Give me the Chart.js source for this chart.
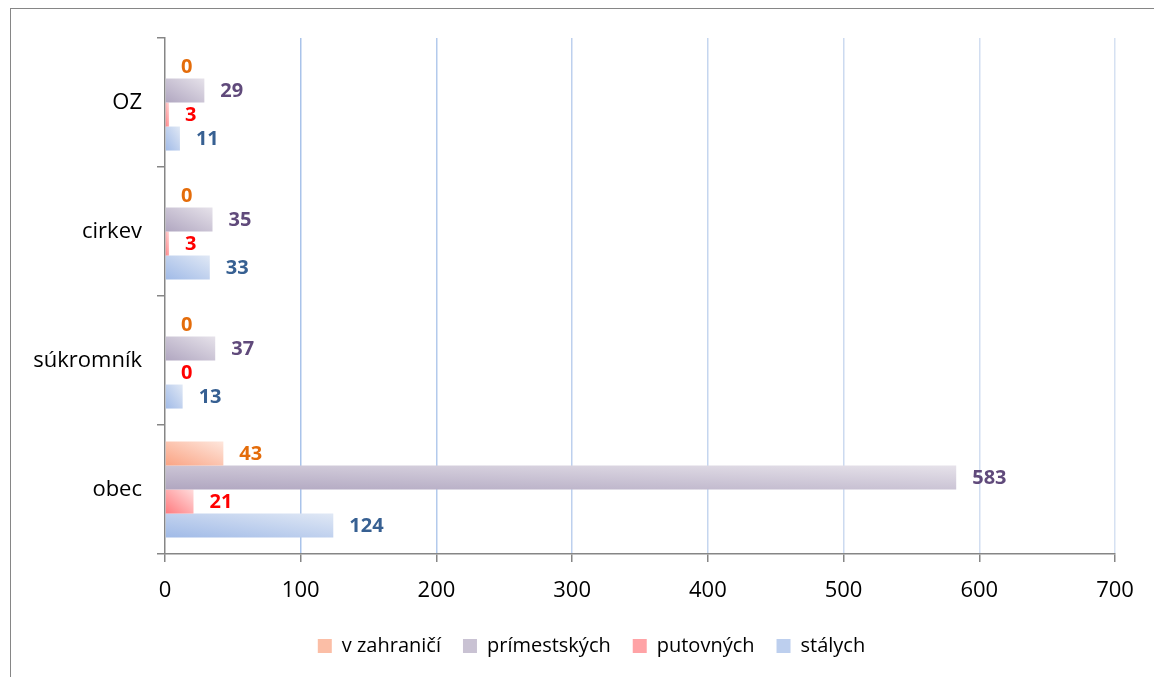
<!DOCTYPE html>
<html>
<head>
<meta charset="utf-8">
<script src="https://cdn.jsdelivr.net/npm/chart.js@4.4.0/dist/chart.umd.min.js"></script>
<style>
    html, body { margin: 0; padding: 0; background: #fff; }
    #wrap { position: relative; width: 1154px; height: 677px; overflow: hidden; }
    #frame { position: absolute; left: 10px; top: 8px; width: 1200px; height: 700px; border: 1px solid #868686; }
    canvas { position: absolute; left: 0; top: 0; }
</style>
</head>
<body>
<div id="wrap">
    <div id="frame"></div>
    <canvas id="chart" width="1154" height="677"></canvas>
</div>
<script>
const CATEGORIES = ['OZ', 'cirkev', 'súkromník', 'obec'];
const SERIES_NAMES = ['v zahraničí', 'prímestských', 'putovných', 'stálych'];

const ABROAD = [0, 0, 0, 43];
const SUBURBAN = [29, 35, 37, 583];
const TRAVELLING = [3, 3, 0, 21];
const STATIONARY = [11, 33, 13, 124];

const X_MIN = 0;
const X_MAX = 700;
const X_STEP = 100;

// dark / light ends of the bar gradients, label colours, legend swatches
const DARK = ['#FAA383', '#B0A6C0', '#FF7A7E', '#A0BAE7'];
const LIGHT = ['#FEE6DC', '#E6E2EA', '#FFDCDC', '#E0E8F5'];
const LABEL_COLORS = ['#E46C0A', '#604A7B', '#FF0000', '#376092'];
const LEGEND_COLORS = ['#FBBEA6', '#C9C2D3', '#FFA3A6', '#BDCFEE'];
// vertical gridlines fade from left to right
const GRID_COLORS = ['rgba(0,0,0,0)', '#A9C3EA', '#B3CAEC', '#BDD0EE', '#C5D6EF', '#CCDAF0', '#D2DEF1', '#D6E1F2'];

const FONT = '"Open Sans", sans-serif';
const CATEGORY_PCT = 0.745;
const LEGEND_SHIFT = 34;

Chart.defaults.font.family = FONT;
Chart.defaults.color = '#000';

/**
 * Diagonal gradient stretched to the bar shape (like the office "linear diagonal" fill).
 */
function barGradient(i) {
    return (ctx) => {
        const chart = ctx.chart;
        const { x, y } = chart.scales;
        if (ctx.type !== 'data' || !chart.chartArea || !x || !y) {
            return LEGEND_COLORS[i];
        }
        const n = chart.data.datasets.length;
        const band = (y.height / chart.data.labels.length) * CATEGORY_PCT;
        const h = band / n;
        const top = y.getPixelForValue(ctx.dataIndex) - band / 2 + ctx.datasetIndex * h;
        const x0 = x.getPixelForValue(0);
        const w = Math.max(x.getPixelForValue(ctx.raw) - x0, 1);
        const t = (2 * w * h) / (w * w + h * h);
        const g = chart.ctx.createLinearGradient(x0, top + h, x0 + t * h, top + h - t * w);
        g.addColorStop(0, DARK[i]);
        g.addColorStop(1, LIGHT[i]);
        return g;
    };
}

const valueLabels = {
    id: 'valueLabels',
    afterDatasetsDraw(chart) {
        const { ctx } = chart;
        ctx.save();
        ctx.font = 'bold 20px ' + FONT;
        ctx.textBaseline = 'middle';
        ctx.textAlign = 'left';
        chart.data.datasets.forEach((ds, i) => {
            ctx.fillStyle = LABEL_COLORS[i];
            chart.getDatasetMeta(i).data.forEach((bar, j) => {
                ctx.fillText(String(ds.data[j]), bar.x + 16, bar.y + 1);
            });
        });
        ctx.restore();
    },
};

// the legend sits centred under the plot area rather than the whole canvas
const legendShift = {
    id: 'legendShift',
    afterLayout(chart) {
        if (chart.legend) {
            chart.legend.left += LEGEND_SHIFT;
            chart.legend.right += LEGEND_SHIFT;
            chart.legend.top += 2;
            chart.legend.bottom += 2;
        }
    },
};

const seriesData = [ABROAD, SUBURBAN, TRAVELLING, STATIONARY];

const chart = new Chart(document.getElementById('chart'), {
    type: 'bar',
    data: {
        labels: CATEGORIES,
        datasets: seriesData.map((data, i) => ({
            label: SERIES_NAMES[i],
            data: data,
            backgroundColor: barGradient(i),
            borderWidth: 0,
            categoryPercentage: CATEGORY_PCT,
            barPercentage: 1,
        })),
    },
    plugins: [valueLabels, legendShift],
    options: {
        responsive: false,
        animation: false,
        devicePixelRatio: 1,
        indexAxis: 'y',
        layout: {
            padding: { left: 0, right: 39, top: 38, bottom: 13 },
        },
        plugins: {
            tooltip: { enabled: false },
            legend: {
                position: 'bottom',
                labels: {
                    boxWidth: 14,
                    boxHeight: 14,
                    padding: 22,
                    font: { size: 20 },
                    color: '#000',
                    generateLabels: (c) => c.data.datasets.map((ds, i) => ({
                        text: ds.label,
                        fillStyle: LEGEND_COLORS[i],
                        strokeStyle: LEGEND_COLORS[i],
                        lineWidth: 0,
                        hidden: false,
                        datasetIndex: i,
                    })),
                },
            },
        },
        scales: {
            x: {
                min: X_MIN,
                max: X_MAX,
                ticks: {
                    stepSize: X_STEP,
                    padding: 16,
                    font: { size: 22 },
                    color: '#000',
                },
                grid: {
                    color: (ctx) => GRID_COLORS[ctx.index] || '#D6E1F2',
                    lineWidth: 1.5,
                    tickColor: '#868686',
                    tickLength: 8,
                },
                border: { color: '#868686', width: 1.5 },
                afterFit: (scale) => {
                    scale.height = 58;
                },
            },
            y: {
                ticks: {
                    padding: 15,
                    font: { size: 22 },
                    color: '#000',
                },
                grid: {
                    drawOnChartArea: false,
                    color: '#868686',
                    lineWidth: 1.5,
                    tickLength: 8,
                },
                border: { color: '#868686', width: 1.5 },
                afterFit: (scale) => {
                    scale.width = 165;
                },
            },
        },
    },
});
</script>
</body>
</html>
